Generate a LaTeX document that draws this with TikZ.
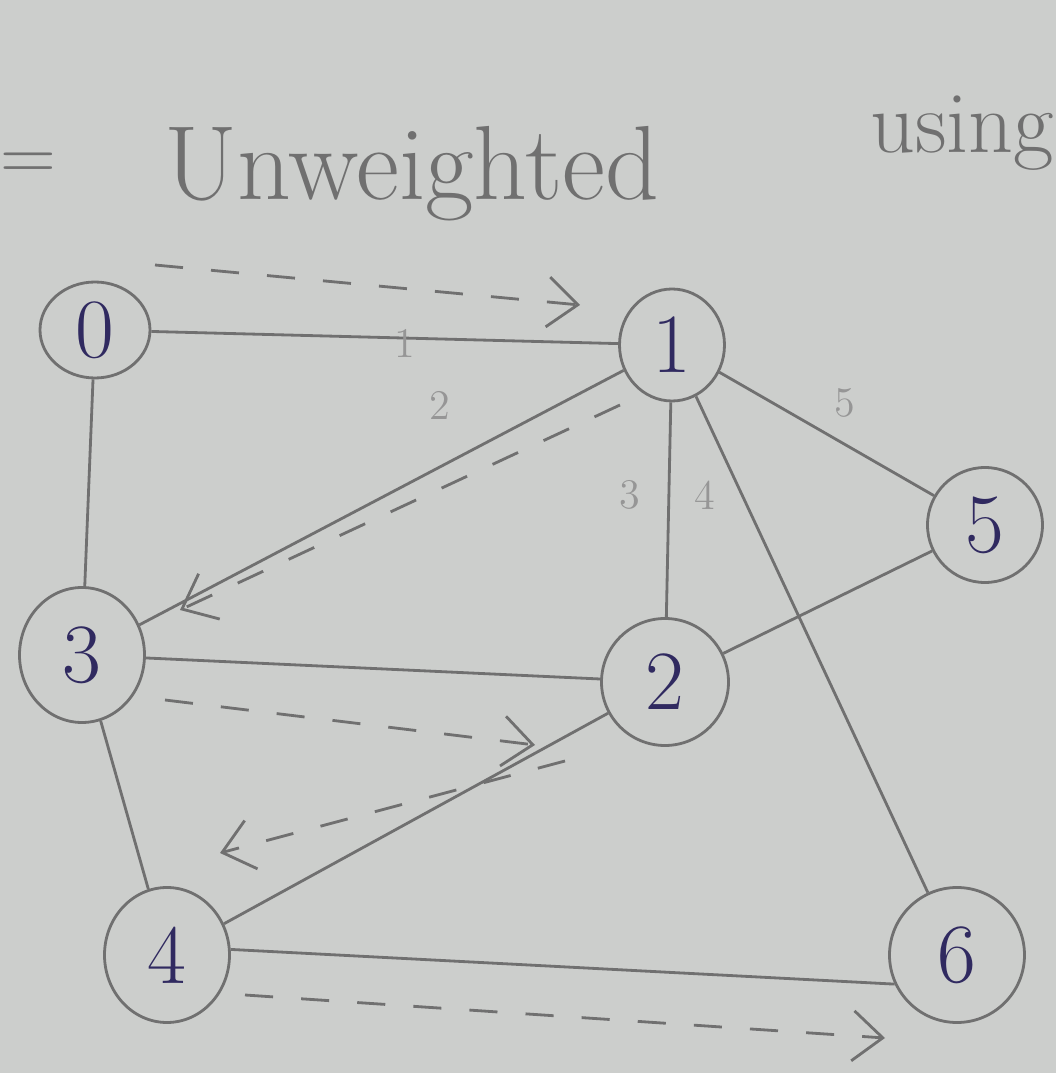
\documentclass[tikz,border=0pt]{standalone}
\usepackage{tikz}
\usetikzlibrary{arrows.meta, shapes.geometric}
\usepackage{xcolor}
\definecolor{paper}{RGB}{204,206,204}
\definecolor{pencil}{RGB}{112,112,112}
\definecolor{faint}{RGB}{150,150,150}
\definecolor{ink}{RGB}{48,42,96}

\begin{document}
\begin{tikzpicture}[>={Straight Barb[length=3mm, width=5mm]},
  vert/.style={draw=pencil, thick, ellipse, inner sep=0pt, text=ink,
    font=\fontsize{24}{24}\selectfont},
  edge/.style={draw=pencil, thick},
  walk/.style={draw=pencil, thick, dash pattern=on 8pt off 8pt, ->},
  wt/.style={text=faint, font=\large}]
  \fill[paper] (0,0) rectangle (10.56,10.73);
  \useasboundingbox (0,0) rectangle (10.56,10.73);

  % heading
  \node[text=pencil, font=\fontsize{22}{22}\selectfont, anchor=base west] (eq) at (-0.12,8.92) {=};
  \node[text=pencil, font=\fontsize{30}{30}\selectfont, anchor=base west] (head) at (1.52,8.73) {Unweighted};
  \node[text=pencil, font=\fontsize{25}{25}\selectfont, anchor=base west] (using) at (8.58,9.2) {using};

  % vertices
  \node[vert, minimum width=1.10cm, minimum height=0.96cm] (v0) at (0.95,7.43) {0};
  \node[vert, minimum width=1.05cm, minimum height=1.12cm] (v1) at (6.72,7.28) {1};
  \node[vert, minimum width=1.15cm, minimum height=1.15cm] (v5) at (9.85,5.48) {5};
  \node[vert, minimum width=1.25cm, minimum height=1.35cm] (v3) at (0.82,4.18) {3};
  \node[vert, minimum width=1.27cm, minimum height=1.27cm] (v2) at (6.65,3.91) {2};
  \node[vert, minimum width=1.25cm, minimum height=1.35cm] (v4) at (1.67,1.18) {4};
  \node[vert, minimum width=1.35cm, minimum height=1.35cm] (v6) at (9.57,1.18) {6};

  % edges
  \draw[edge] (v0) -- (v1);
  \draw[edge] (v0) -- (v3);
  \draw[edge] (v1) -- (v3);
  \draw[edge] (v1) -- (v2);
  \draw[edge] (v1) -- (v5);
  \draw[edge] (v1) -- (v6);
  \draw[edge] (v3) -- (v2);
  \draw[edge] (v3) -- (v4);
  \draw[edge] (v2) -- (v5);
  \draw[edge] (v2) -- (v4);
  \draw[edge] (v4.5) -- (v6.205);

  % weights
  \node[wt] (w01) at (4.05,7.30) {1};
  \node[wt] (w13) at (4.40,6.68) {2};
  \node[wt] (w15) at (8.45,6.70) {5};
  \node[wt] (w12) at (6.30,5.78) {3};
  \node[wt] (w16) at (7.05,5.78) {4};

  % traversal
  \coordinate (s01) at (1.55,8.08);
  \coordinate (e01) at (5.80,7.68);
  \coordinate (s13) at (6.20,6.68);
  \coordinate (e13) at (1.80,4.63);
  \coordinate (s32) at (1.65,3.73);
  \coordinate (e32) at (5.35,3.28);
  \coordinate (s24) at (5.65,3.12);
  \coordinate (e24) at (2.20,2.20);
  \coordinate (s46) at (2.45,0.78);
  \coordinate (e46) at (8.85,0.35);
  \draw[walk] (s01) -- (e01);
  \draw[walk] (s13) -- (e13);
  \draw[walk] (s32) -- (e32);
  \draw[walk] (s24) -- (e24);
  \draw[walk] (s46) -- (e46);
\end{tikzpicture}
\end{document}
